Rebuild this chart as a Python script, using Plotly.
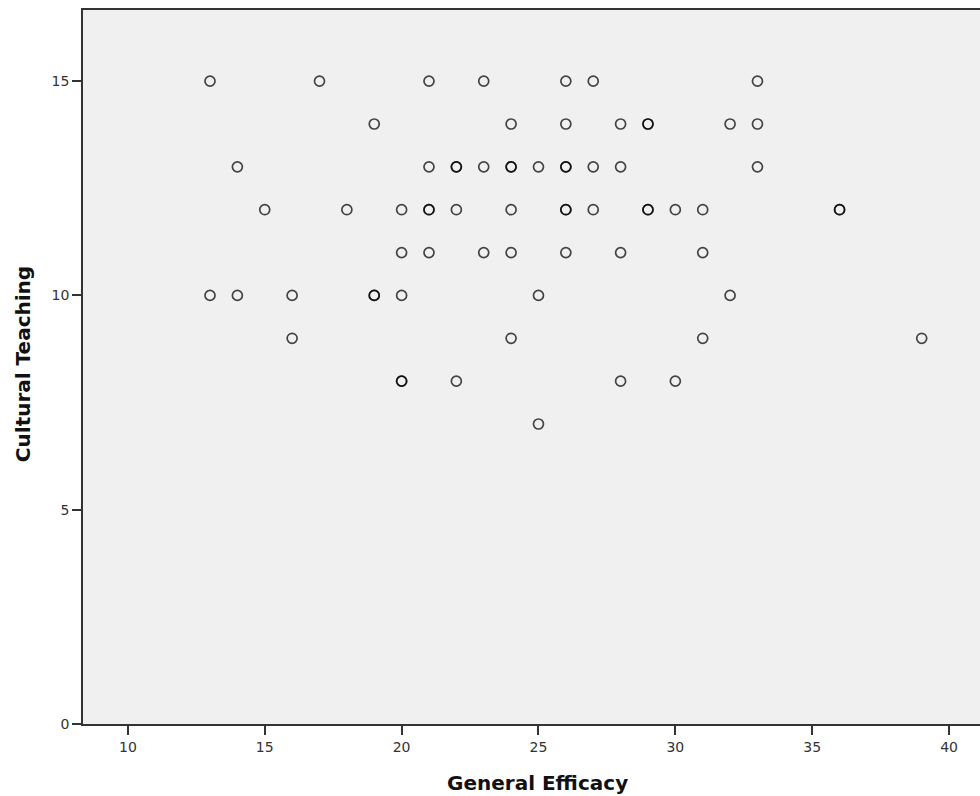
import plotly.graph_objects as go

# General Efficacy (x) and Cultural Teaching (y); repeated pairs are overlapping cases
general_efficacy = [
    13, 17, 21, 23, 26, 27, 33,
    19, 24, 26, 28, 29, 29, 32, 33,
    14, 21, 22, 22, 23, 24, 24, 25, 26, 26, 27, 28, 33,
    15, 18, 20, 21, 21, 22, 24, 26, 26, 27, 29, 29, 30, 31, 36, 36,
    20, 21, 23, 24, 26, 28, 31,
    13, 14, 16, 19, 19, 20, 25, 32,
    16, 24, 31, 39,
    20, 20, 22, 28, 30,
    25,
]
cultural_teaching = [
    15, 15, 15, 15, 15, 15, 15,
    14, 14, 14, 14, 14, 14, 14, 14,
    13, 13, 13, 13, 13, 13, 13, 13, 13, 13, 13, 13, 13,
    12, 12, 12, 12, 12, 12, 12, 12, 12, 12, 12, 12, 12, 12, 12, 12,
    11, 11, 11, 11, 11, 11, 11,
    10, 10, 10, 10, 10, 10, 10, 10,
    9, 9, 9, 9,
    8, 8, 8, 8, 8,
    7,
]
x_ticks = [10, 15, 20, 25, 30, 35, 40]
y_ticks = [0, 5, 10, 15]

fig = go.Figure(go.Scatter(
    x=general_efficacy, y=cultural_teaching, mode="markers",
    marker=dict(symbol="circle-open", size=10, color="rgba(0,0,0,0.72)",
                line=dict(width=1.7, color="rgba(0,0,0,0.72)")),
    hoverinfo="x+y", showlegend=False,
))

axis_font = dict(family="DejaVu Sans, sans-serif", size=14, color="#333333")
title_font = dict(family="DejaVu Sans, sans-serif", size=20, color="#111111")
fig.update_layout(
    width=980, height=796,
    margin=dict(l=83, r=0, t=10, b=72),
    paper_bgcolor="white", plot_bgcolor="#F0F0F0",
    xaxis=dict(range=[8.36, 41.13], tickvals=x_ticks, ticks="outside", ticklen=9,
               tickwidth=1.5, tickcolor="#333333", showline=True, linecolor="#333333",
               linewidth=1.8, mirror=True, showgrid=False, zeroline=False,
               tickfont=axis_font),
    yaxis=dict(range=[0, 16.66], tickvals=y_ticks, ticks="outside", ticklen=9,
               tickwidth=1.5, tickcolor="#333333", showline=True, linecolor="#333333",
               linewidth=1.8, mirror=False, showgrid=False, zeroline=False,
               tickfont=axis_font),
    annotations=[
        dict(text="<b>General Efficacy</b>", xref="paper", yref="paper",
             x=0.507, y=-0.0826, xanchor="center", yanchor="middle", showarrow=False,
             font=title_font),
        dict(text="<b>Cultural Teaching</b>", xref="paper", yref="paper",
             x=-0.0669, y=0.504, xanchor="center", yanchor="middle", textangle=-90,
             showarrow=False, font=title_font),
    ],
)

fig.write_html(
    "out.html",
    config={"displayModeBar": False},
    post_script="document.body.style.margin='0';document.body.style.overflow='hidden';",
)
